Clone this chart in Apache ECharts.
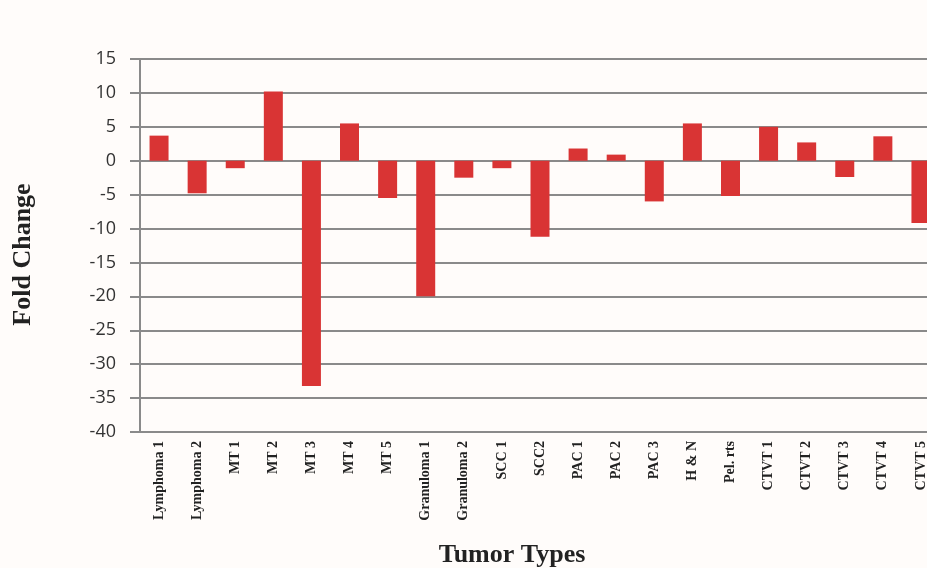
<!DOCTYPE html>
<html><head><meta charset="utf-8">
<script src="https://cdn.jsdelivr.net/npm/echarts@6/dist/echarts.min.js"></script>
<style>html,body{margin:0;padding:0;background:#fffcfa;overflow:hidden}#c{width:940px;height:568px}</style>
</head><body><div id="c"></div>
<script>
const categories = ["Lymphoma 1","Lymphoma 2","MT 1","MT 2","MT 3","MT 4","MT 5","Granuloma 1","Granuloma 2","SCC 1","SCC2","PAC 1","PAC 2","PAC 3","H & N","Pel. rts","CTVT 1","CTVT 2","CTVT 3","CTVT 4","CTVT 5"];
const foldChange = [3.7,-4.8,-1.1,10.2,-33.2,5.5,-5.5,-20.0,-2.5,-1.1,-11.2,1.8,0.9,-6.0,5.5,-5.2,5.0,2.7,-2.4,3.6,-9.2];
const yTicks = {min:-40, max:15, interval:5};

const chart = echarts.init(document.getElementById('c'), null, {renderer:'canvas'});
chart.setOption({
  backgroundColor:'#fffcfa',
  animation:false,
  grid:{left:140, top:59, right:0, height:373, containLabel:false, outerBoundsMode:'none'},
  xAxis:{
    type:'category', data:categories,
    axisLine:{onZero:false, lineStyle:{color:'#8a8a8a', width:2}},
    axisTick:{show:false},
    axisLabel:{rotate:90, interval:0, fontFamily:'Liberation Serif', fontWeight:'bold', fontSize:14, color:'#222', margin:9},
    name:'Tumor Types', nameLocation:'middle', nameGap:110,
    nameTextStyle:{fontFamily:'Liberation Serif', fontWeight:'bold', fontSize:26, color:'#222', padding:[0,56,0,0]}
  },
  yAxis:{
    type:'value', min:yTicks.min, max:yTicks.max, interval:yTicks.interval,
    axisLine:{show:true, lineStyle:{color:'#8a8a8a', width:2}},
    axisTick:{show:true, length:10, lineStyle:{color:'#8a8a8a', width:2}},
    splitLine:{lineStyle:{color:'#8a8a8a', width:2}},
    axisLabel:{fontFamily:'Open Sans', fontSize:18, color:'#333', margin:24},
    name:'Fold Change', nameLocation:'middle', nameGap:104,
    nameTextStyle:{fontFamily:'Liberation Serif', fontWeight:'bold', fontSize:26, color:'#222', padding:[0,18,0,0]}
  },
  series:[{
    type:'bar', data:foldChange, barWidth:19,
    itemStyle:{color:'#d93434'}
  }]
});
</script></body></html>
